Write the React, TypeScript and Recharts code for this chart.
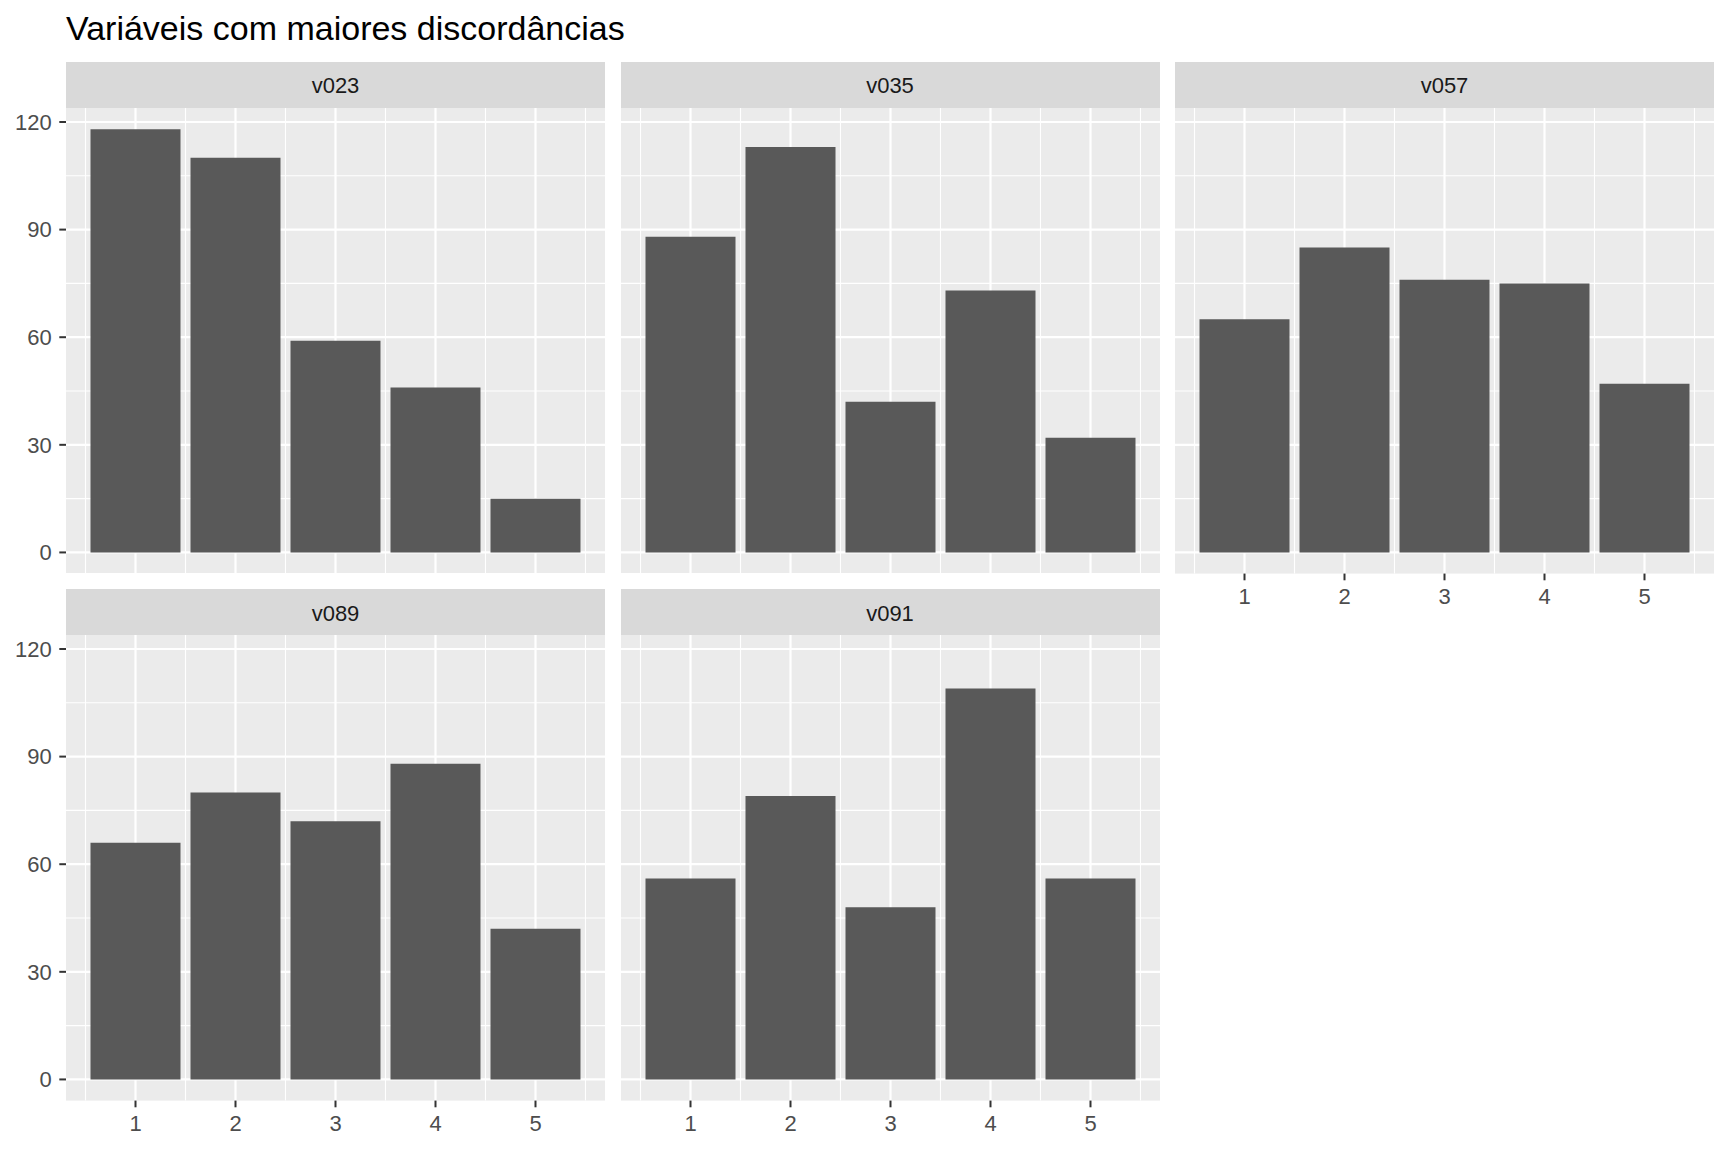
import { Bar, BarChart, CartesianGrid, XAxis, YAxis } from "recharts";

const titulo = "Variáveis com maiores discordâncias";
const categorias = [1, 2, 3, 4, 5];
const variaveis = ["v023", "v035", "v057", "v089", "v091"];

const v023 = [118, 110, 59, 46, 15];
const v035 = [88, 113, 42, 73, 32];
const v057 = [65, 85, 76, 75, 47];
const v089 = [66, 80, 72, 88, 42];
const v091 = [56, 79, 48, 109, 56];

const contagens = [v023, v035, v057, v089, v091];

const yTicks = [0, 30, 60, 90, 120];
const yMinor = [15, 45, 75, 105];
const xMinor = [0.5, 1.5, 2.5, 3.5, 4.5, 5.5];
const xDomain: [number, number] = [0.305, 5.695];
const yDomain: [number, number] = [-5.9, 123.9];

const FONT = "'Liberation Sans', Arial, Helvetica, sans-serif";
const PANEL_W = 539;
const PANEL_H = 465.6;
const STRIP_H = 46;
const Y_AXIS_W = 66;
const X_AXIS_H = 45;
const colLeft = [66, 620.5, 1175];
const stripTop = [61.7, 589.3];

// facet_wrap layout: 3 columns, 2 rows
const layout = [
  { col: 0, row: 0, showX: false, showY: true },
  { col: 1, row: 0, showX: false, showY: false },
  { col: 2, row: 0, showX: true, showY: false },
  { col: 0, row: 1, showX: true, showY: true },
  { col: 1, row: 1, showX: true, showY: false },
];

const tickStyle = { fill: "#4D4D4D", fontSize: 22, fontFamily: FONT };
const tickLineStyle = { stroke: "#333333", strokeWidth: 2 };

function Panel({ index }: { index: number }) {
  const { col, row, showX, showY } = layout[index];
  const data = categorias.map((x, i) => ({ x, n: contagens[index][i] }));
  const plotLeft = colLeft[col];
  const plotTop = stripTop[row] + STRIP_H;
  const chartLeft = showY ? plotLeft - Y_AXIS_W : plotLeft;
  const width = PANEL_W + (showY ? Y_AXIS_W : 0);
  const height = PANEL_H + (showX ? X_AXIS_H : 0);

  return (
    <>
      <div
        style={{
          position: "absolute",
          left: plotLeft,
          top: stripTop[row],
          width: PANEL_W,
          height: STRIP_H,
          background: "#D9D9D9",
          color: "#1A1A1A",
          fontSize: 22,
          fontFamily: FONT,
          display: "flex",
          alignItems: "center",
          justifyContent: "center",
          paddingTop: 3,
          boxSizing: "border-box",
        }}
      >
        {variaveis[index]}
      </div>
      <div style={{ position: "absolute", left: chartLeft, top: plotTop }}>
        <BarChart
          width={width}
          height={height}
          data={data}
          margin={{ top: 0, right: 0, bottom: 0, left: 0 }}
          barCategoryGap="5%"
        >
          <CartesianGrid
            fill="#EBEBEB"
            stroke="#FFFFFF"
            strokeWidth={1.1}
            horizontalValues={yMinor}
            verticalValues={xMinor}
          />
          <CartesianGrid
            fill="none"
            stroke="#FFFFFF"
            strokeWidth={2.2}
            horizontalValues={yTicks}
            verticalValues={categorias}
          />
          <XAxis
            type="number"
            dataKey="x"
            domain={xDomain}
            ticks={categorias}
            allowDataOverflow
            hide={!showX}
            height={X_AXIS_H}
            axisLine={false}
            tickLine={tickLineStyle}
            tickSize={6.7}
            tickMargin={8}
            tick={tickStyle}
            interval={0}
          />
          <YAxis
            type="number"
            domain={yDomain}
            ticks={yTicks}
            allowDataOverflow
            hide={!showY}
            width={Y_AXIS_W}
            axisLine={false}
            tickLine={tickLineStyle}
            tickSize={6.7}
            tickMargin={7.6}
            tick={tickStyle}
            interval={0}
          />
          <Bar dataKey="n" fill="#595959" isAnimationActive={false} />
        </BarChart>
      </div>
    </>
  );
}

export default function App() {
  return (
    <div
      style={{
        position: "absolute",
        left: 0,
        top: 0,
        width: 1728,
        height: 1152,
        background: "#FFFFFF",
        fontFamily: FONT,
      }}
    >
      <div
        style={{
          position: "absolute",
          left: 66,
          top: 11,
          fontSize: 34,
          lineHeight: "34px",
          color: "#000000",
          whiteSpace: "nowrap",
        }}
      >
        {titulo}
      </div>
      {variaveis.map((v, i) => (
        <Panel key={v} index={i} />
      ))}
    </div>
  );
}
